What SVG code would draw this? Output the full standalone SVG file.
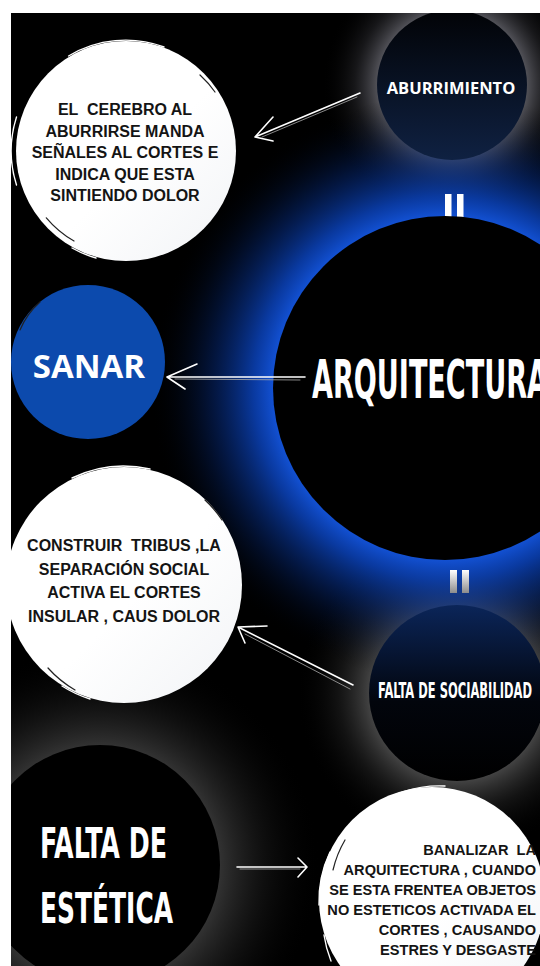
<svg xmlns="http://www.w3.org/2000/svg" width="540" height="966" viewBox="0 0 540 966">
<style>
.note{font-family:"Liberation Sans",Arial,sans-serif;font-weight:bold;font-size:16px;fill:#141414;text-anchor:middle}
.noteR{font-family:"Liberation Sans",Arial,sans-serif;font-weight:bold;font-size:14.6px;fill:#141414;text-anchor:end}
.os{font-family:"Open Sans","DejaVu Sans",sans-serif;font-weight:bold;fill:#fff;text-anchor:middle}
.cond{font-family:"Liberation Sans Narrow","DejaVu Sans Condensed",sans-serif;font-weight:bold;fill:#fff}
.arr{fill:none;stroke:#fff;stroke-width:1.6;stroke-linecap:round;stroke-linejoin:round}
.arr2{fill:none;stroke:#aaa;stroke-width:0.8;stroke-linecap:round}
.streak{fill:none;stroke:#fff;stroke-width:1.4;stroke-linecap:round}
.dstreak{fill:none;stroke:#222;stroke-width:1.2;stroke-linecap:round}
.bar{fill:#fff}
</style>
<defs>
<clipPath id="bg"><rect x="11" y="13" width="529" height="953"/></clipPath>
<radialGradient id="gBlue" gradientUnits="userSpaceOnUse" cx="445" cy="388" r="295">
<stop offset="0.57" stop-color="#1455dc"/>
<stop offset="0.65" stop-color="#0b43bb" stop-opacity="0.85"/>
<stop offset="0.8" stop-color="#062a7a" stop-opacity="0.45"/>
<stop offset="1" stop-color="#000" stop-opacity="0"/>
</radialGradient>
<radialGradient id="gAbu" gradientUnits="userSpaceOnUse" cx="452" cy="85" r="130">
<stop offset="0.57" stop-color="#80808a" stop-opacity="0.65"/>
<stop offset="0.75" stop-color="#505058" stop-opacity="0.28"/>
<stop offset="1" stop-color="#000" stop-opacity="0"/>
</radialGradient>
<radialGradient id="gSoc" gradientUnits="userSpaceOnUse" cx="457" cy="693" r="160">
<stop offset="0.54" stop-color="#747474" stop-opacity="0.6"/>
<stop offset="0.74" stop-color="#444" stop-opacity="0.28"/>
<stop offset="1" stop-color="#000" stop-opacity="0"/>
</radialGradient>
<radialGradient id="gEst" gradientUnits="userSpaceOnUse" cx="100" cy="865" r="220">
<stop offset="0.54" stop-color="#666" stop-opacity="0.5"/>
<stop offset="0.74" stop-color="#383838" stop-opacity="0.28"/>
<stop offset="1" stop-color="#000" stop-opacity="0"/>
</radialGradient>
<linearGradient id="fAbu" x1="0" y1="0" x2="0" y2="1">
<stop offset="0" stop-color="#020306"/>
<stop offset="1" stop-color="#0f2142"/>
</linearGradient>
<linearGradient id="fSoc" x1="0" y1="0" x2="0" y2="1">
<stop offset="0" stop-color="#0b2559"/>
<stop offset="0.55" stop-color="#02050c"/>
<stop offset="1" stop-color="#000"/>
</linearGradient>
<linearGradient id="fWhite" x1="0" y1="0" x2="1" y2="1">
<stop offset="0.55" stop-color="#fff"/>
<stop offset="1" stop-color="#f1f3f6"/>
</linearGradient>
<linearGradient id="fBar" x1="0" y1="0" x2="0" y2="1">
<stop offset="0" stop-color="#fff"/>
<stop offset="1" stop-color="#8c8c8c"/>
</linearGradient>
</defs>

<rect x="0" y="0" width="540" height="966" fill="#fff"/>
<rect x="11" y="13" width="529" height="953" fill="#000"/>

<g id="glows" clip-path="url(#bg)">
<circle cx="100" cy="865" r="220" fill="url(#gEst)"/>
<circle cx="457" cy="693" r="160" fill="url(#gSoc)"/>
<circle cx="452" cy="85" r="130" fill="url(#gAbu)"/>
<circle cx="445" cy="388" r="295" fill="url(#gBlue)"/>
</g>

<g clip-path="url(#bg)">
<g id="aburrimiento">
<circle cx="452" cy="85" r="75" fill="url(#fAbu)"/>
<text class="os" x="451" y="94" font-size="16.5">ABURRIMIENTO</text>
</g>

<g id="igual-1">
<rect class="bar" x="445" y="194" width="6.5" height="23"/>
<rect class="bar" x="457" y="194" width="6.5" height="23"/>
</g>

<g id="arquitectura">
<circle cx="445" cy="388" r="172" fill="#000"/>
<text class="cond" x="312" y="398" font-size="53" textLength="236" lengthAdjust="spacingAndGlyphs">ARQUITECTURA</text>
</g>

<g id="igual-2">
<rect x="450" y="570" width="7" height="23" fill="url(#fBar)"/>
<rect x="462" y="570" width="7" height="23" fill="url(#fBar)"/>
</g>

<g id="falta-sociabilidad">
<circle cx="457" cy="693" r="88" fill="url(#fSoc)"/>
<text class="cond" x="378" y="698" font-size="22" textLength="154" lengthAdjust="spacingAndGlyphs">FALTA DE SOCIABILIDAD</text>
</g>

<g id="falta-estetica">
<circle cx="100" cy="865" r="120" fill="#000"/>
<text class="cond" x="40" y="858" font-size="42" textLength="127" lengthAdjust="spacingAndGlyphs">FALTA DE</text>
<text class="cond" x="40" y="923" font-size="42" textLength="133" lengthAdjust="spacingAndGlyphs">ESTÉTICA</text>
</g>

<g id="sanar">
<circle cx="88" cy="362" r="77" fill="#0c4aad"/>
<path class="dstreak" d="M20,330 A76,76 0 0 1 40,302" stroke="#0a3c8e"/>
<text class="os" x="89" y="378" font-size="33">SANAR</text>
</g>

<g id="nota-cerebro">
<circle cx="126" cy="151" r="110" fill="url(#fWhite)"/>
<path class="streak" d="M68.5,56 A111,111 0 0 1 164,47"/>
<path class="streak" d="M16.5,185 A112,112 0 0 1 16.5,117"/>
<path class="streak" d="M72,248 A111,111 0 0 0 96,258"/>
<path class="dstreak" d="M74,241 A104,104 0 0 1 46.3,217.8"/>
<path class="dstreak" d="M200,75 A104,104 0 0 1 215,92"/>
<text class="note" xml:space="preserve"><tspan x="125" y="115">EL  CEREBRO AL</tspan><tspan x="125" y="136.5">ABURRIRSE MANDA</tspan><tspan x="125" y="158">SEÑALES AL CORTES E</tspan><tspan x="125" y="179.5">INDICA QUE ESTA</tspan><tspan x="125" y="201">SINTIENDO DOLOR</tspan></text>
</g>

<g id="nota-tribus">
<circle cx="124" cy="585" r="118" fill="url(#fWhite)"/>
<path class="streak" d="M72,478 A119,119 0 0 1 150,469"/>
<path class="streak" d="M10,628 A119,119 0 0 1 9,548"/>
<path class="streak" d="M62,686 A119,119 0 0 0 90,699"/>
<path class="dstreak" d="M75,690 A112,112 0 0 1 48,668"/>
<path class="dstreak" d="M205,500 A112,112 0 0 1 222,520"/>
<text class="note" xml:space="preserve"><tspan x="124" y="551">CONSTRUIR  TRIBUS ,LA</tspan><tspan x="124" y="575">SEPARACIÓN SOCIAL</tspan><tspan x="124" y="598">ACTIVA EL CORTES</tspan><tspan x="124" y="622">INSULAR , CAUS DOLOR</tspan></text>
</g>

<g id="nota-banalizar">
<circle cx="432" cy="900" r="113" fill="url(#fWhite)"/>
<path class="streak" d="M372,808 A115,115 0 0 1 445,786"/>
<path class="streak" d="M330,852 A115,115 0 0 0 319,905"/>
<path class="streak" d="M324,935 A114,114 0 0 0 331,961"/>
<path class="dstreak" d="M345,840 A107,107 0 0 0 333,870"/>
<text class="noteR" xml:space="preserve"><tspan x="536" y="855">BANALIZAR  LA</tspan><tspan x="536" y="875">ARQUITECTURA , CUANDO</tspan><tspan x="536" y="895">SE ESTA FRENTEA OBJETOS</tspan><tspan x="536" y="915">NO ESTETICOS ACTIVADA EL</tspan><tspan x="536" y="935">CORTES , CAUSANDO</tspan><tspan x="536" y="955">ESTRES Y DESGASTE</tspan></text>
</g>

<g id="connectors">
<path class="arr" d="M360,93 L255,137 M273,117 L255,137 L273,141"/>
<path class="arr2" d="M357,97 L262,137"/>
<path class="arr" d="M305,377 L167,377 M197,364 L167,377 L185,389"/>
<path class="arr2" d="M300,380 L175,379"/>
<path class="arr" d="M353,685 L238,627 M267,626 L238,627 L245,643"/>
<path class="arr2" d="M350,689 L245,634"/>
<path class="arr" d="M237,867 L307,867 M298,858 L307,867 L298,877"/>
<path class="arr2" d="M240,869 L300,869"/>
</g>
</g>
</svg>
